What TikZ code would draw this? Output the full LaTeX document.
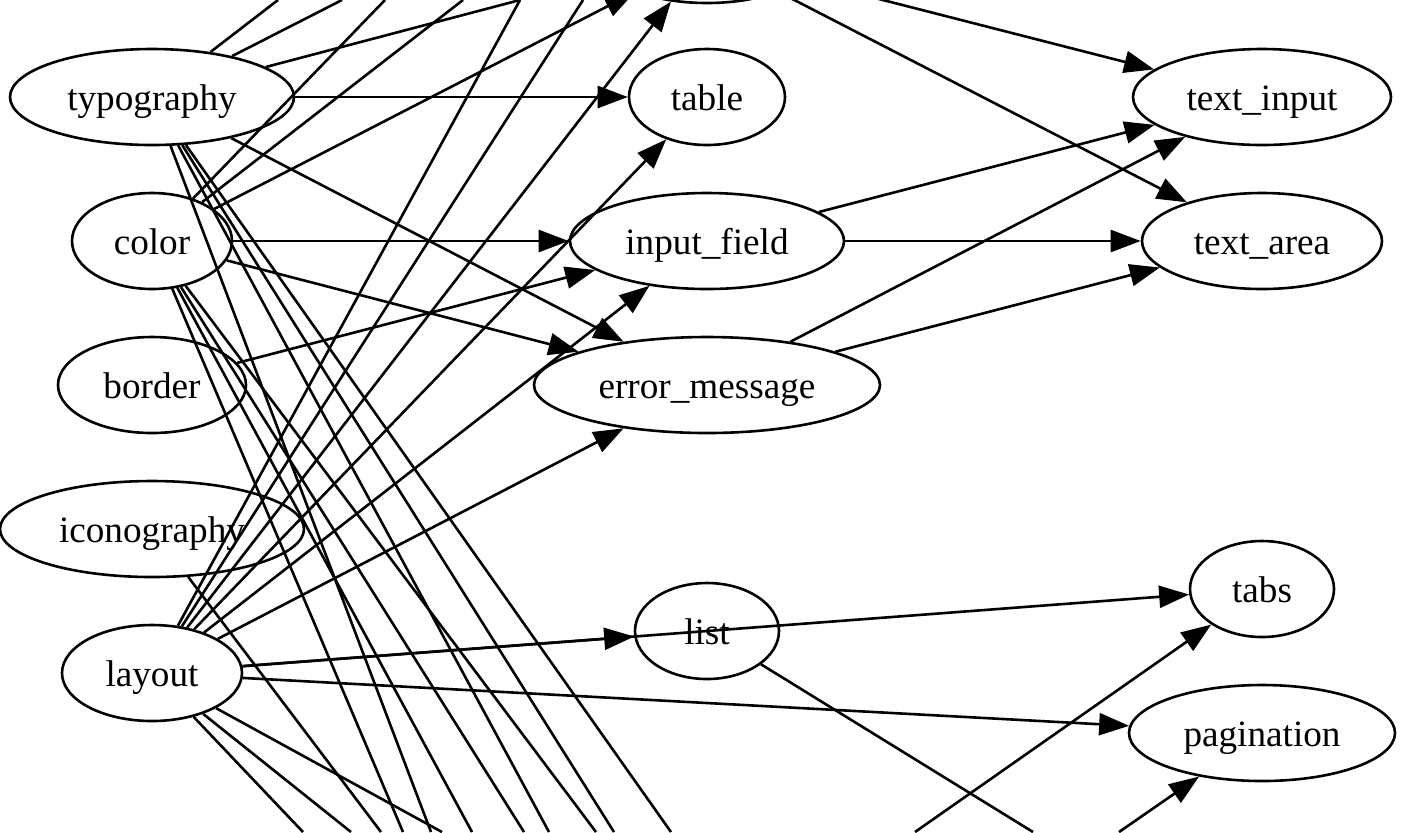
\documentclass[tikz,border=0pt]{standalone}
\usepackage{fontspec}
\setmainfont{Liberation Serif}
\usetikzlibrary{shapes.geometric,arrows.meta}

\begin{document}
\begin{tikzpicture}[x=0.5pt,y=-0.5pt,
        comp/.style={draw,ellipse,line width=1.3pt,minimum height=48pt,inner sep=0pt,text height=16pt,text depth=3pt,font=\fontsize{18.6}{22}\selectfont},
        edge/.style={line width=1.3pt,-{Triangle[length=15pt,width=11pt]}},
        wire/.style={line width=1.3pt}]
            \useasboundingbox (0,0) rectangle (1416,832);
            \clip (0,0) rectangle (1416,832);
            \fill[white] (0,0) rectangle (1416,832);

            \node[comp,minimum width=142pt] (typo) at (152,97) {typography};
            \node[comp,minimum width=80pt] (color) at (152,241) {color};
            \node[comp,minimum width=94pt] (border) at (152,385) {border};
            \node[comp,minimum width=152pt] (icon) at (152,529) {iconography};
            \node[comp,minimum width=90pt] (layout) at (152,673) {layout};
            \node[comp,minimum width=110pt] (top) at (707,-45) {};
            \node[comp,minimum width=78pt] (table) at (707,97) {table};
            \node[comp,minimum width=137pt] (input) at (707,241) {input\_field};
            \node[comp,minimum width=173pt] (err) at (707,385) {error\_message};
            \node[comp,minimum width=72pt] (list) at (707,631) {list};
            \node[comp,minimum width=129pt] (tinput) at (1262,97) {text\_input};
            \node[comp,minimum width=120pt] (tarea) at (1262,241) {text\_area};
            \node[comp,minimum width=72pt] (tabs) at (1262,589) {tabs};
            \node[comp,minimum width=133pt] (pag) at (1262,733) {pagination};

            \coordinate (up1) at (278,0);
            \coordinate (up2) at (342,0);
            \coordinate (up3) at (385,0);
            \coordinate (up4) at (463,0);
            \coordinate (up5) at (520,0);
            \coordinate (up6) at (583,0);
            \coordinate (dn1) at (303,832);
            \coordinate (dn2) at (351,832);
            \coordinate (dn3) at (442,832);
            \coordinate (dn4) at (381,832);
            \coordinate (dn5) at (403,832);
            \coordinate (dn6) at (472,832);
            \coordinate (dn7) at (524,832);
            \coordinate (dn8) at (596,832);
            \coordinate (dn9) at (431,832);
            \coordinate (dn10) at (549,832);
            \coordinate (dn11) at (614,832);
            \coordinate (dn12) at (671,832);
            \coordinate (dn13) at (1033,832);
            \coordinate (dn14) at (915,832);
            \coordinate (dn15) at (1119,832);

            \draw[edge] (typo) -- (table);
            \draw[edge] (typo) -- (err);
            \draw[edge] (color) -- (input);
            \draw[edge] (color) -- (err);
            \draw[edge] (color) -- (top);
            \draw[edge] (border) -- (input);
            \draw[edge] (layout) -- (top);
            \draw[edge] (layout) -- (table);
            \draw[edge] (layout) -- (input);
            \draw[edge] (layout) -- (err);
            \draw[edge] (layout) -- (list);
            \draw[edge] (layout) -- (tabs);
            \draw[edge] (layout) -- (pag);
            \draw[edge] (top) -- (tinput);
            \draw[edge] (top) -- (tarea);
            \draw[edge] (input) -- (tinput);
            \draw[edge] (input) -- (tarea);
            \draw[edge] (err) -- (tinput);
            \draw[edge] (err) -- (tarea);
            \draw[edge] (dn14) -- (tabs);
            \draw[edge] (dn15) -- (pag);

            \draw[wire] (typo) -- (up1);
            \draw[wire] (typo) -- (up2);
            \draw[wire] (typo) -- (up5);
            \draw[wire] (color) -- (up3);
            \draw[wire] (color) -- (up4);
            \draw[wire] (layout) -- (up5);
            \draw[wire] (layout) -- (up6);
            \draw[wire] (layout) -- (dn1);
            \draw[wire] (layout) -- (dn2);
            \draw[wire] (layout) -- (dn3);
            \draw[wire] (icon) -- (dn4);
            \draw[wire] (color) -- (dn5);
            \draw[wire] (color) -- (dn6);
            \draw[wire] (color) -- (dn7);
            \draw[wire] (color) -- (dn8);
            \draw[wire] (typo) -- (dn9);
            \draw[wire] (typo) -- (dn10);
            \draw[wire] (typo) -- (dn11);
            \draw[wire] (typo) -- (dn12);
            \draw[wire] (list) -- (dn13);
        \end{tikzpicture}
\end{document}
